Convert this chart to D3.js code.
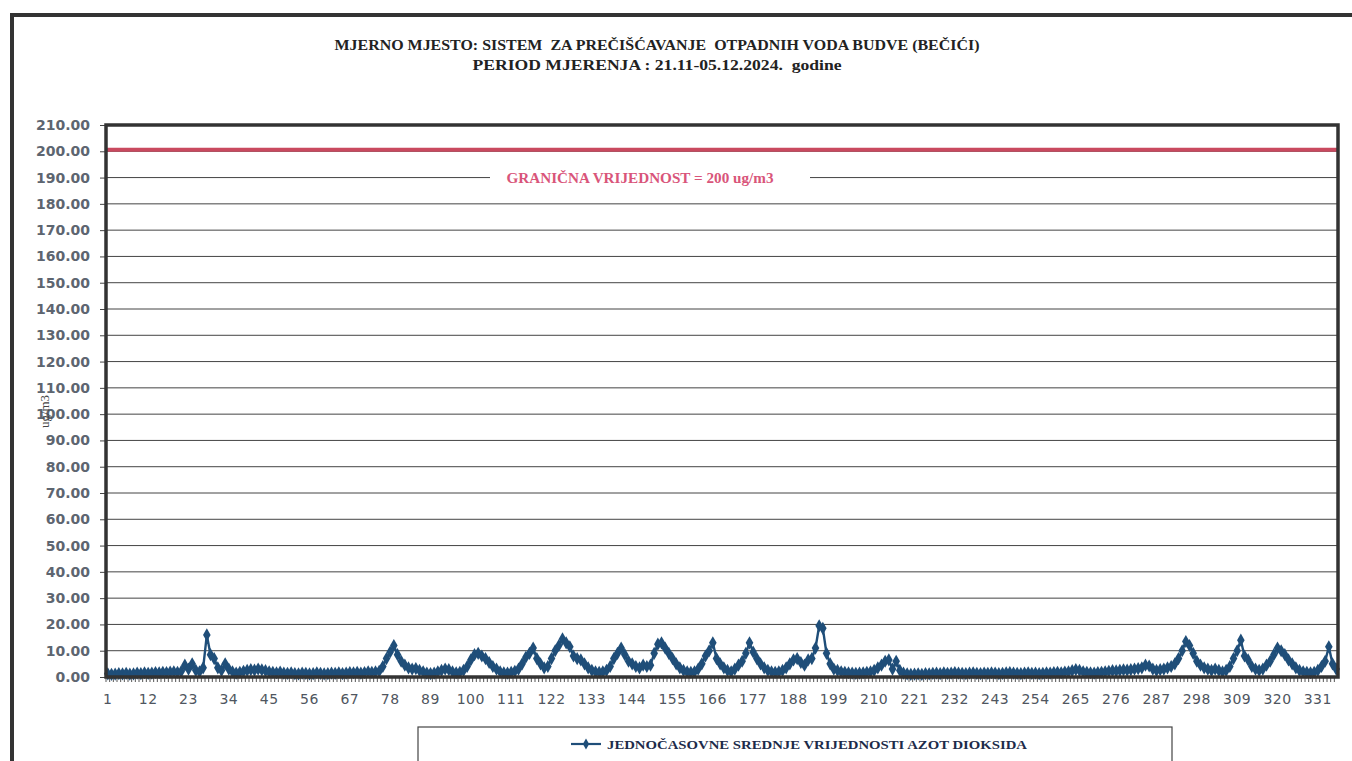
<!DOCTYPE html>
<html><head><meta charset="utf-8">
<script src="https://cdn.jsdelivr.net/npm/d3@7"></script>
<style>body{margin:0;background:#fff}svg{display:block}</style>
</head><body><svg id="chart" width="1352" height="761"></svg>
<script>
const titleLine1 = "MJERNO MJESTO: SISTEM  ZA PREČIŠĆAVANJE  OTPADNIH VODA BUDVE (BEČIĆI)";
const titleLine2 = "PERIOD MJERENJA : 21.11-05.12.2024.  godine";
const limitValue = 200;
const limitLabel = "GRANIČNA VRIJEDNOST = 200 ug/m3";
const yAxisTitle = "ug/m3";
const seriesName = "JEDNOČASOVNE SREDNJE VRIJEDNOSTI AZOT DIOKSIDA";
const yTicks = [0,10,20,30,40,50,60,70,80,90,100,110,120,130,140,150,160,170,180,190,200,210];
const xTickLabels = [1,12,23,34,45,56,67,78,89,100,111,122,133,144,155,166,177,188,199,210,221,232,243,254,265,276,287,298,309,320,331];
const no2Values = [
 1.2,1.0,1.1,1.3,1.2,1.4,1.1,1.2,1.5,1.3,1.6,1.4,1.5,1.7,1.6,1.8,1.7,1.9,2.0,1.8,2.1,4.5,3.0,5.0,
 2.5,2.0,3.5,16.0,8.5,7.0,3.5,2.5,5.0,3.0,2.0,1.5,1.8,2.2,2.5,2.8,2.6,3.0,2.7,2.4,2.0,1.8,1.6,1.9,
 1.5,1.4,1.6,1.3,1.2,1.5,1.4,1.2,1.3,1.6,1.4,1.2,1.3,1.5,1.4,1.6,1.3,1.5,1.7,1.6,1.8,1.5,1.7,2.0,
 1.8,2.0,2.2,4.0,7.0,9.5,12.0,8.5,6.0,4.5,3.5,3.0,3.2,2.5,2.0,1.5,1.3,1.5,2.0,2.5,3.0,2.8,2.0,1.6,
 1.8,2.5,4.0,6.5,8.5,9.0,8.0,7.0,5.5,4.0,3.0,2.0,1.6,1.5,1.8,2.2,3.0,5.0,7.5,9.0,11.0,7.0,5.0,3.5,
 4.0,7.0,10.0,12.0,14.5,13.0,11.5,8.0,7.0,6.5,5.0,3.5,2.5,2.0,1.8,2.0,2.5,4.0,7.0,9.0,11.0,8.5,6.0,5.0,
 4.0,3.5,4.5,4.0,4.5,9.0,12.5,13.0,11.0,9.0,7.0,5.0,3.5,2.5,2.0,1.8,2.0,3.0,5.0,8.0,10.0,13.0,7.0,5.0,
 3.5,2.5,2.0,3.0,4.5,6.0,9.0,13.0,9.5,7.0,5.0,3.5,2.5,2.0,1.8,2.0,2.5,3.5,5.0,6.5,7.0,5.5,4.5,6.5,
 7.0,11.0,19.5,18.5,9.0,5.0,3.0,2.5,2.0,1.8,1.6,1.5,1.4,1.5,1.6,1.8,2.0,2.5,3.5,4.5,6.0,6.5,3.0,6.0,
 2.5,1.5,1.2,1.0,1.1,1.2,1.0,1.3,1.2,1.4,1.5,1.3,1.6,1.4,1.5,1.7,1.5,1.4,1.3,1.5,1.6,1.4,1.3,1.5,
 1.4,1.6,1.5,1.3,1.4,1.6,1.7,1.5,1.4,1.3,1.5,1.6,1.4,1.5,1.3,1.4,1.6,1.5,1.7,1.8,1.6,1.9,2.0,2.4,
 2.8,2.5,2.0,1.8,1.6,1.5,1.7,1.8,2.0,2.2,2.4,2.3,2.5,2.7,2.6,2.8,3.0,3.2,3.5,4.5,4.2,3.0,2.5,2.8,
 3.0,3.5,4.0,5.0,7.0,10.0,13.5,12.0,9.0,6.0,4.5,3.5,3.0,2.5,3.0,2.5,2.0,2.5,4.0,7.0,10.0,14.0,8.0,6.5,
 4.0,3.0,2.5,3.0,4.5,6.0,8.5,11.0,10.0,8.5,6.5,5.0,3.5,2.5,2.0,1.8,1.6,1.8,2.5,4.0,6.0,11.5,5.0,3.0
];
const categories = no2Values.map((d, i) => i + 1);

const svg = d3.select("#chart");
const W = 1352, H = 761;
const plot = {left: 106, right: 1338, top: 125, bottom: 677};
const lineColor = "#1f4e79";

// outer frame
svg.append("path").attr("d", `M12,${H} L12,15 L${W},15`)
  .attr("fill", "none").attr("stroke", "#333").attr("stroke-width", 4);

// titles
const serif = "'Liberation Serif', 'DejaVu Serif', serif";
svg.append("text").attr("x", 657).attr("y", 50).attr("text-anchor", "middle")
  .attr("font-family", serif).attr("font-weight", "bold").attr("font-size", 14)
  .attr("fill", "#222").attr("textLength", 645).attr("lengthAdjust", "spacingAndGlyphs")
  .attr("xml:space", "preserve").text(titleLine1);
svg.append("text").attr("x", 657).attr("y", 70).attr("text-anchor", "middle")
  .attr("font-family", serif).attr("font-weight", "bold").attr("font-size", 14)
  .attr("fill", "#222").attr("textLength", 369).attr("lengthAdjust", "spacingAndGlyphs")
  .attr("xml:space", "preserve").text(titleLine2);

const x = d3.scaleBand().domain(categories).range([plot.left, plot.right]).paddingInner(0).paddingOuter(0);
const y = d3.scaleLinear().domain([0, 210]).range([plot.bottom, plot.top]);
const cx = d => x(d) + x.bandwidth() / 2;

// gridlines
svg.append("g").selectAll("line").data(yTicks).join("line")
  .attr("x1", plot.left).attr("x2", plot.right)
  .attr("y1", d => y(d)).attr("y2", d => y(d))
  .attr("stroke", "#444").attr("stroke-width", 1);

// y axis
const yAxis = svg.append("g").attr("transform", `translate(${plot.left},0)`)
  .call(d3.axisLeft(y).tickValues(yTicks).tickFormat(d3.format(".2f")).tickSize(6).tickPadding(10));
yAxis.select(".domain").remove();
yAxis.selectAll(".tick line").attr("stroke", "#444");
yAxis.selectAll("text").attr("font-family", "'DejaVu Sans', sans-serif").attr("font-weight", "bold")
  .attr("font-size", 14).attr("fill", "#5d6570");

// x axis with tick at every category boundary
svg.append("g").selectAll("line").data(categories).join("line")
  .attr("x1", d => x(d)).attr("x2", d => x(d))
  .attr("y1", plot.bottom).attr("y2", plot.bottom + 5)
  .attr("stroke", "#555").attr("stroke-width", 1);
svg.append("g").selectAll("text").data(xTickLabels).join("text")
  .attr("x", d => cx(d)).attr("y", plot.bottom + 27).attr("text-anchor", "middle")
  .attr("font-family", "'DejaVu Sans', sans-serif").attr("font-size", 14)
  .attr("letter-spacing", 0.5).attr("fill", "#4f5660").text(d => d);

// y axis title
svg.append("text").attr("transform", `translate(49,${y(101)}) rotate(-90)`)
  .attr("text-anchor", "middle").attr("font-family", serif).attr("font-size", 13)
  .attr("fill", "#444").text(yAxisTitle);

// limit line & label
svg.append("line").attr("x1", plot.left).attr("x2", plot.right)
  .attr("y1", y(limitValue) - 1.5).attr("y2", y(limitValue) - 1.5)
  .attr("stroke", "#c9495f").attr("stroke-width", 4);
svg.append("rect").attr("x", 490).attr("y", y(190) - 8).attr("width", 320).attr("height", 16).attr("fill", "#fff");
svg.append("text").attr("x", 640).attr("y", y(190) + 5).attr("text-anchor", "middle")
  .attr("font-family", serif).attr("font-weight", "bold").attr("font-size", 14)
  .attr("fill", "#d9557a").attr("textLength", 267).attr("lengthAdjust", "spacingAndGlyphs")
  .text(limitLabel);

// series line
const line = d3.line().x((d, i) => cx(categories[i])).y(d => y(d));
svg.append("path").datum(no2Values).attr("d", line)
  .attr("fill", "none").attr("stroke", lineColor).attr("stroke-width", 2.4);
const diamond = d3.symbol().type(d3.symbolDiamond).size(50);
svg.append("g").selectAll("path").data(no2Values).join("path")
  .attr("transform", (d, i) => `translate(${cx(categories[i])},${y(d)})`)
  .attr("d", diamond).attr("fill", lineColor);

// plot border
svg.append("rect").attr("x", plot.left).attr("y", plot.top)
  .attr("width", plot.right - plot.left).attr("height", plot.bottom - plot.top)
  .attr("fill", "none").attr("stroke", "#333").attr("stroke-width", 3.5);

// legend
svg.append("rect").attr("x", 418).attr("y", 727).attr("width", 754).attr("height", 40)
  .attr("fill", "#fff").attr("stroke", "#444").attr("stroke-width", 1.2);
svg.append("line").attr("x1", 571).attr("x2", 601).attr("y1", 744).attr("y2", 744)
  .attr("stroke", lineColor).attr("stroke-width", 2.2);
svg.append("path").attr("transform", "translate(586,744)").attr("d", d3.symbol().type(d3.symbolDiamond).size(34)).attr("fill", lineColor);
svg.append("text").attr("x", 607).attr("y", 749)
  .attr("font-family", serif).attr("font-weight", "bold").attr("font-size", 13).attr("fill", "#1d2b4a")
  .attr("textLength", 420).attr("lengthAdjust", "spacingAndGlyphs").text(seriesName);
</script></body></html>
